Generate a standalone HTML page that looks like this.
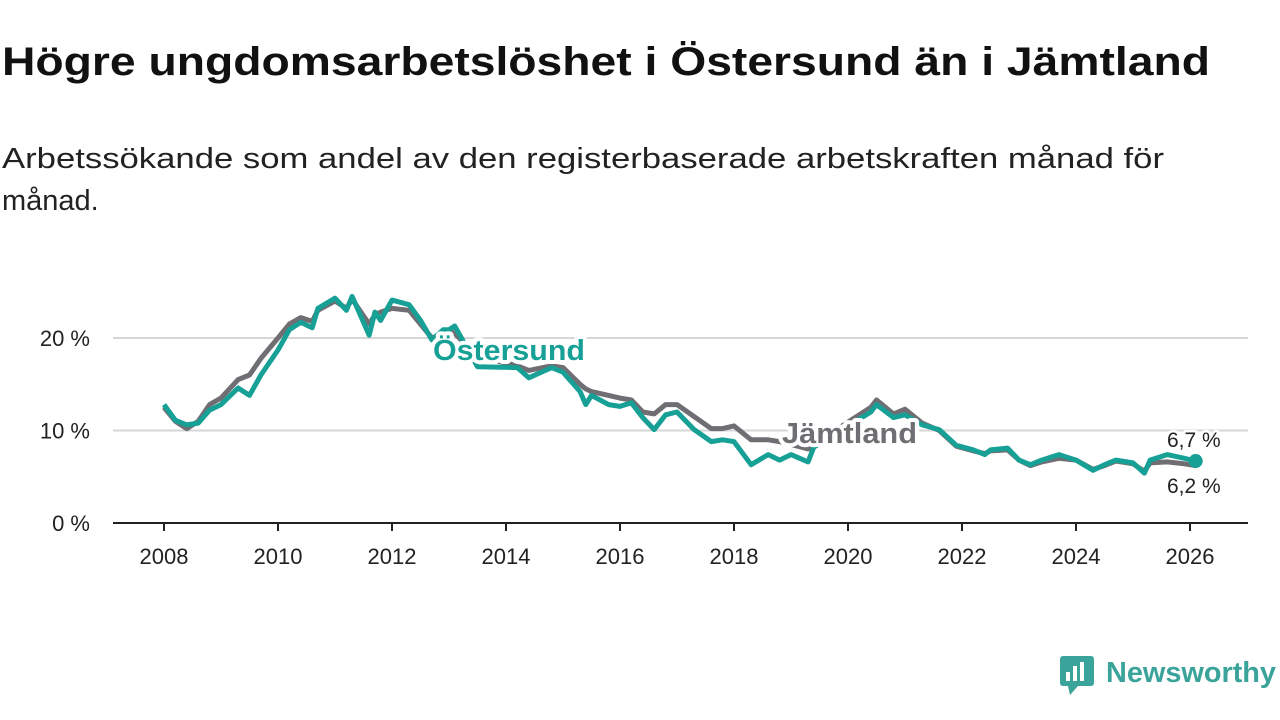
<!DOCTYPE html>
<html><head><meta charset="utf-8"><style>
html,body{margin:0;padding:0;background:#fff;width:1280px;height:720px;overflow:hidden}
svg{display:block;font-family:"Liberation Sans","DejaVu Sans",sans-serif}
</style></head><body>
<svg id="chart" width="1280" height="720" viewBox="0 0 1280 720">
<text x="2" y="75" font-size="40" font-weight="bold" fill="#111" textLength="1208" lengthAdjust="spacingAndGlyphs">Högre ungdomsarbetslöshet i Östersund än i Jämtland</text>
<text x="2" y="168" font-size="29" fill="#222" textLength="1162" lengthAdjust="spacingAndGlyphs">Arbetssökande som andel av den registerbaserade arbetskraften månad för</text>
<text x="2" y="210" font-size="29" fill="#222">månad.</text>
<g id="grid"></g><g id="axes"></g><g id="series"></g><g id="labels"></g>
<g>
<rect x="1060" y="656" width="34" height="30" rx="3" fill="#3aa39a"/>
<polygon points="1068,686 1078,686 1070,695" fill="#3aa39a"/>
<rect x="1066" y="672" width="4" height="9" fill="#fff"/><rect x="1073" y="666" width="4" height="15" fill="#fff"/><rect x="1080" y="662" width="4" height="19" fill="#fff"/>
<text x="1106" y="682" font-size="29" font-weight="bold" fill="#3aa39a" textLength="170" lengthAdjust="spacingAndGlyphs">Newsworthy</text>
</g>
</svg>
<script>
const years=[2008,2008.2,2008.4,2008.6,2008.8,2009,2009.3,2009.5,2009.7,2010,2010.2,2010.4,2010.6,2010.7,2011,2011.2,2011.3,2011.6,2011.7,2011.8,2012,2012.3,2012.5,2012.7,2012.9,2013,2013.1,2013.5,2014.2,2014.4,2014.8,2015,2015.3,2015.4,2015.5,2015.8,2016,2016.2,2016.4,2016.6,2016.8,2017,2017.3,2017.6,2017.8,2018,2018.3,2018.6,2018.8,2019,2019.3,2019.4,2020.4,2020.5,2020.8,2021,2021.3,2021.6,2021.9,2022.2,2022.4,2022.5,2022.8,2023,2023.2,2023.4,2023.7,2024,2024.3,2024.5,2024.7,2025,2025.2,2025.3,2025.6,2025.9,2026.1];
const ostersund=[12.8,11.1,10.6,10.8,12.2,12.8,14.6,13.8,16.0,18.7,20.9,21.7,21.1,23.2,24.3,23.0,24.5,20.3,22.8,21.9,24.1,23.6,21.9,19.8,20.9,20.9,21.3,16.9,16.8,15.7,16.8,16.3,14.2,12.8,13.8,12.8,12.6,13.0,11.4,10.1,11.7,12.0,10.1,8.8,9.0,8.8,6.3,7.4,6.8,7.4,6.6,8.2,12.0,12.8,11.4,11.7,10.6,10.1,8.4,7.9,7.4,7.9,8.1,6.8,6.3,6.8,7.4,6.8,5.7,6.3,6.8,6.5,5.4,6.8,7.4,7.0,6.7];
const jamtland=[12.5,11.0,10.2,11.0,12.8,13.5,15.5,16.0,17.8,20.0,21.5,22.2,21.8,23.0,24.0,23.2,24.2,21.5,22.5,22.8,23.2,23.0,21.5,20.0,20.5,20.8,20.5,18.0,17.0,16.5,17.0,16.8,15.0,14.5,14.2,13.8,13.5,13.3,12.0,11.8,12.8,12.8,11.5,10.2,10.2,10.5,9.0,9.0,8.8,8.5,8.0,8.5,12.5,13.3,11.8,12.3,10.8,10.0,8.3,7.8,7.5,7.8,7.9,6.8,6.2,6.6,7.0,6.8,5.8,6.2,6.7,6.4,5.6,6.5,6.6,6.4,6.2];
const xTicks=[2008,2010,2012,2014,2016,2018,2020,2022,2024,2026];
const yTicks=[0,10,20];
const NS="http://www.w3.org/2000/svg";
const X=y=>164+(y-2008)*57;
const Y=v=>523-v*9.25;
function mk(t,a,p){const e=document.createElementNS(NS,t);for(const k in a)e.setAttribute(k,a[k]);document.getElementById(p).appendChild(e);return e;}
yTicks.forEach(v=>{
 if(v>0){const g=mk('line',{x1:113,x2:1248,y1:Y(v),y2:Y(v),stroke:'#d6d6d6','stroke-width':2},'grid');
 
 }
 const t=mk('text',{x:90,y:Y(v)+8,'font-size':22,fill:'#222','text-anchor':'end'},'axes');t.textContent=v+' %';
 
 
});
const ax=mk('line',{x1:113,x2:1248,y1:523,y2:523,stroke:'#222','stroke-width':2},'axes');


xTicks.forEach(y=>{
 const l=mk('line',{x1:X(y),x2:X(y),y1:523,y2:531,stroke:'#222','stroke-width':2},'axes');
 
 
 const t=mk('text',{x:X(y),y:564,'font-size':22,fill:'#222','text-anchor':'middle'},'axes');t.textContent=y;
 
 
});
function pts(a){return a.map((v,i)=>X(years[i]).toFixed(1)+','+Y(v).toFixed(1)).join(' ');}
const j=mk('polyline',{points:pts(jamtland),fill:'none',stroke:'#706e73','stroke-width':5,'stroke-linejoin':'round'},'series');


const o=mk('polyline',{points:pts(ostersund),fill:'none',stroke:'#16a096','stroke-width':5,'stroke-linejoin':'round'},'series');


const n=years.length-1;
const d=mk('circle',{cx:X(years[n]),cy:Y(ostersund[n]),r:7,fill:'#16a096'},'series');


function lab(txt,x,y,fill,size,bold,name,len){
 const a={x:x,y:y,'font-size':size,fill:fill,'font-weight':bold?'bold':'normal',stroke:'#fff','stroke-width':bold?8:5,'paint-order':'stroke','stroke-linejoin':'round'};
 if(len){a.textLength=len;a.lengthAdjust='spacingAndGlyphs';}
 const t=mk('text',a,'labels');t.textContent=txt;
 
 
 return t;
}
lab('Östersund',433,360,'#16a096',29,true,'ostersund-label',152);
lab('Jämtland',782,443,'#706e73',29,true,'jamtland-label',135);
lab(ostersund[n].toFixed(1).replace('.',',')+' %',1167,447,'#222',21,false,'ostersund-end-value');
lab(jamtland[n].toFixed(1).replace('.',',')+' %',1167,493,'#222',21,false,'jamtland-end-value');
</script>
</body></html>
